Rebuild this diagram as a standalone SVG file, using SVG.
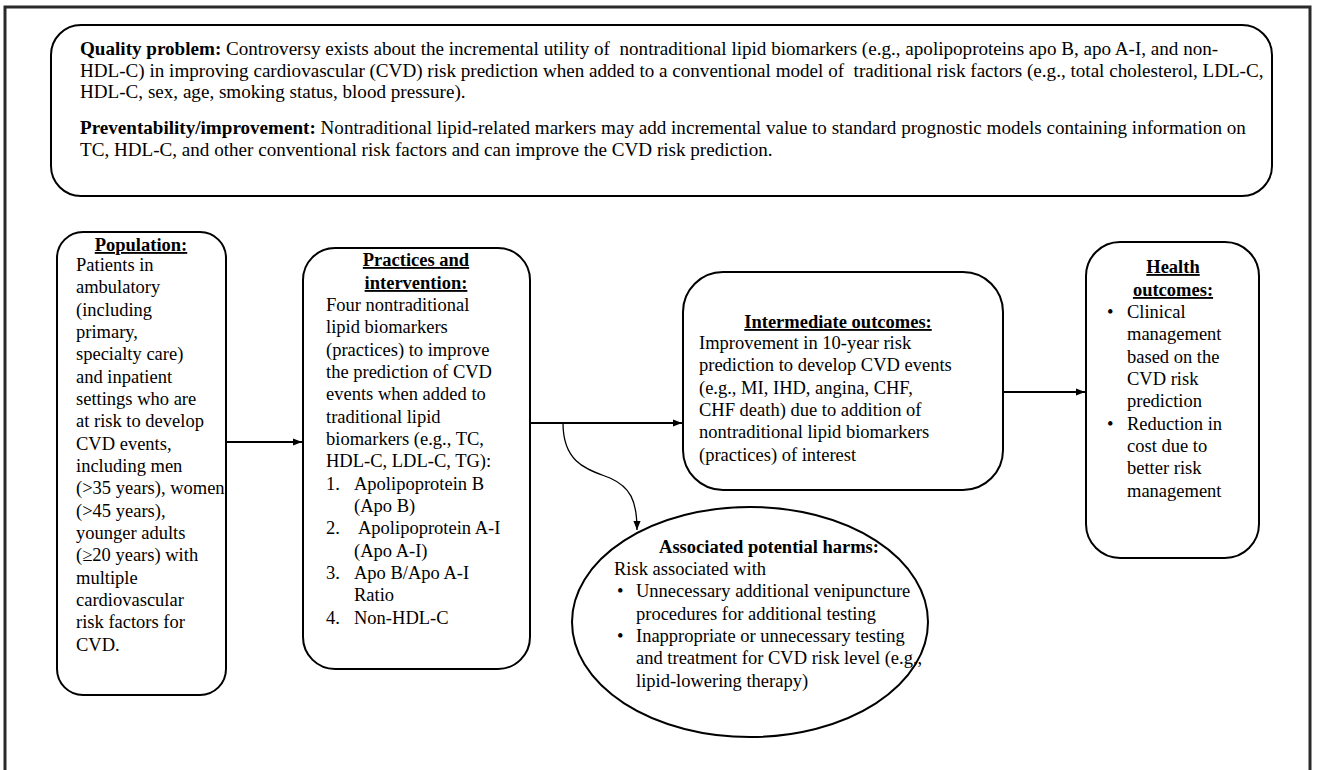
<svg xmlns="http://www.w3.org/2000/svg" width="1318" height="770" viewBox="0 0 1318 770">
<style>
.box{fill:#fff;stroke:#000;stroke-width:2}
.t{font-family:"Liberation Serif","Times New Roman",serif;font-size:18.5px;fill:#000}
.s{font-family:"Liberation Serif","Times New Roman",serif;font-size:19.1px;fill:#000}
.b{font-weight:bold}
.h{font-weight:bold;text-decoration:underline;text-anchor:middle}
.c{fill:none;stroke:#000;stroke-width:2}
</style>
<defs>
<marker id="ah2" viewBox="0 0 10 10" refX="10" refY="5" markerWidth="9" markerHeight="9" markerUnits="userSpaceOnUse" orient="auto"><path d="M0,1 L10,5 L0,9 z" fill="#000"/></marker>
</defs>
<rect width="1318" height="770" fill="#fff"/>
<rect x="5" y="7" width="1305" height="800" fill="none" stroke="#2a2a2a" stroke-width="3"/>

<g id="quality">
<rect class="box" x="51" y="25" width="1221" height="171" rx="30"/>
<text class="s" x="80" y="55"><tspan class="b">Quality problem:</tspan> Controversy exists about the incremental utility of&#160; nontraditional lipid biomarkers (e.g., apolipoproteins apo B, apo A-I, and non-</text>
<text class="s" x="80" y="76.5">HDL-C) in improving cardiovascular (CVD) risk prediction when added to a conventional model of&#160; traditional risk factors (e.g., total cholesterol, LDL-C,</text>
<text class="s" x="80" y="98">HDL-C, sex, age, smoking status, blood pressure).</text>
<text class="s" x="80" y="134"><tspan class="b">Preventability/improvement:</tspan> Nontraditional lipid-related markers may add incremental value to standard prognostic models containing information on</text>
<text class="s" x="80" y="155.5">TC, HDL-C, and other conventional risk factors and can improve the CVD risk prediction.</text>
</g>

<g id="population">
<rect class="box" x="57" y="232" width="169" height="463" rx="26"/>
<text class="t h" x="141" y="251">Population:</text>
<text class="t" x="76" y="271">Patients in</text>
<text class="t" x="76" y="293.4">ambulatory</text>
<text class="t" x="76" y="315.7">(including</text>
<text class="t" x="76" y="338">primary,</text>
<text class="t" x="76" y="360.4">specialty care)</text>
<text class="t" x="76" y="382.7">and inpatient</text>
<text class="t" x="76" y="405">settings who are</text>
<text class="t" x="76" y="427.4">at risk to develop</text>
<text class="t" x="76" y="449.7">CVD events,</text>
<text class="t" x="76" y="472">including men</text>
<text class="t" x="76" y="494.4">(&gt;35 years), women</text>
<text class="t" x="76" y="516.7">(&gt;45 years),</text>
<text class="t" x="76" y="539">younger adults</text>
<text class="t" x="76" y="561.4">(≥20 years) with</text>
<text class="t" x="76" y="583.7">multiple</text>
<text class="t" x="76" y="606">cardiovascular</text>
<text class="t" x="76" y="628.4">risk factors for</text>
<text class="t" x="76" y="650.7">CVD.</text>
</g>

<g id="practices">
<rect class="box" x="303" y="248" width="227" height="421" rx="32"/>
<text class="t h" x="416" y="266">Practices and</text>
<text class="t h" x="416" y="289">intervention:</text>
<text class="t" x="326" y="311">Four nontraditional</text>
<text class="t" x="326" y="333.3">lipid biomarkers</text>
<text class="t" x="326" y="355.6">(practices) to improve</text>
<text class="t" x="326" y="378">the prediction of CVD</text>
<text class="t" x="326" y="400.3">events when added to</text>
<text class="t" x="326" y="422.6">traditional lipid</text>
<text class="t" x="326" y="445">biomarkers (e.g., TC,</text>
<text class="t" x="326" y="467.3">HDL-C, LDL-C, TG):</text>
<text class="t" x="326" y="489.6">1.</text><text class="t" x="354" y="489.6">Apolipoprotein B</text>
<text class="t" x="354" y="512">(Apo B)</text>
<text class="t" x="326" y="534.3">2.</text><text class="t" x="358" y="534.3">Apolipoprotein A-I</text>
<text class="t" x="354" y="556.6">(Apo A-I)</text>
<text class="t" x="326" y="579">3.</text><text class="t" x="354" y="579">Apo B/Apo A-I</text>
<text class="t" x="354" y="601.3">Ratio</text>
<text class="t" x="326" y="623.6">4.</text><text class="t" x="354" y="623.6">Non-HDL-C</text>
</g>

<g id="intermediate">
<rect class="box" x="683" y="272" width="320" height="218" rx="40"/>
<text class="t h" x="838" y="328">Intermediate outcomes:</text>
<text class="t" x="699" y="349">Improvement in 10-year risk</text>
<text class="t" x="699" y="371.3">prediction to develop CVD events</text>
<text class="t" x="699" y="393.6">(e.g., MI, IHD, angina, CHF,</text>
<text class="t" x="699" y="416">CHF death) due to addition of</text>
<text class="t" x="699" y="438.3">nontraditional lipid biomarkers</text>
<text class="t" x="699" y="460.6">(practices) of interest</text>
</g>

<g id="harms">
<ellipse class="box" cx="750" cy="622" rx="178" ry="115"/>
<text class="t b" x="769" y="553" text-anchor="middle">Associated potential harms:</text>
<text class="t" x="614" y="575">Risk associated with</text>
<text class="t" x="617" y="597.3">•</text><text class="t" x="636" y="597.3">Unnecessary additional venipuncture</text>
<text class="t" x="636" y="619.6">procedures for additional testing</text>
<text class="t" x="617" y="642">•</text><text class="t" x="636" y="642">Inappropriate or unnecessary testing</text>
<text class="t" x="636" y="664.3">and treatment for CVD risk level (e.g.,</text>
<text class="t" x="636" y="686.6">lipid-lowering therapy)</text>
</g>

<g id="health">
<rect class="box" x="1086" y="242" width="173" height="316" rx="34"/>
<text class="t h" x="1173" y="273">Health</text>
<text class="t h" x="1173" y="296">outcomes:</text>
<text class="t" x="1107" y="318">•</text><text class="t" x="1127" y="318">Clinical</text>
<text class="t" x="1127" y="340.3">management</text>
<text class="t" x="1127" y="362.6">based on the</text>
<text class="t" x="1127" y="385">CVD risk</text>
<text class="t" x="1127" y="407.3">prediction</text>
<text class="t" x="1107" y="429.6">•</text><text class="t" x="1127" y="429.6">Reduction in</text>
<text class="t" x="1127" y="452">cost due to</text>
<text class="t" x="1127" y="474.3">better risk</text>
<text class="t" x="1127" y="496.6">management</text>
</g>

<g id="connectors">
<line class="c" x1="226" y1="442" x2="302" y2="442" marker-end="url(#ah2)"/>
<line class="c" x1="530" y1="423" x2="682" y2="423" marker-end="url(#ah2)"/>
<line class="c" x1="1003" y1="392" x2="1085" y2="392" marker-end="url(#ah2)"/>
<path d="M563,423 C563,465 590,470 610,478 C630,487 637,500 637,530" fill="none" stroke="#000" stroke-width="1.3" marker-end="url(#ah2)"/>
</g>
</svg>
